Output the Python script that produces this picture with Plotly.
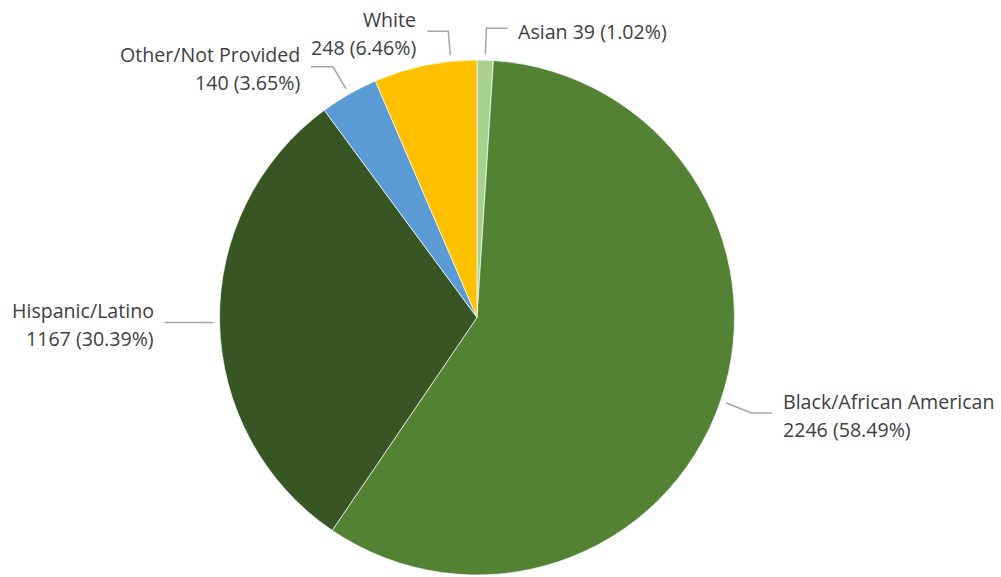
import math
import plotly.graph_objects as go

# ---- data ----
categories = ["Asian", "Black/African American", "Hispanic/Latino", "Other/Not Provided", "White"]
values = [39, 2246, 1167, 140, 248]
colors = ["#A9D18E", "#548235", "#375623", "#5B9BD5", "#FFC000"]

# ---- layout config (pixels) ----
W, H = 1001, 577
CX, CY, R = 477.0, 317.5, 257.5
GAP = 6.0
label_cfg = {
    "Asian": dict(frac=0.5, elbow=(1, -26), hlen=21, side="left", lines=1),
    "Black/African American": dict(frac=0.5, elbow=(25, 10), hlen=21, side="left", lines=2),
    "Hispanic/Latino": dict(frac=0.5, elbow=(-2, 0), hlen=-47, side="right", lines=2),
    "Other/Not Provided": dict(frac=0.5, elbow=(-13, -22), hlen=-22, side="right", lines=2),
    "White": dict(frac=0.75, elbow=(-2, -24), hlen=-21, side="right", lines=2),
}

FONT = "Segoe UI, Open Sans, sans-serif"
FSIZE = 19.6
TXT = "#404040"
LINE = "#A6A6A6"

total = sum(values)
domain_x = [(CX - R - 3) / W, (CX + R + 3) / W]
domain_y = [(H - CY - R) / H, (H - CY + R) / H]

fig = go.Figure(go.Pie(
    labels=categories, values=values, sort=False, direction="clockwise", rotation=0,
    marker=dict(colors=colors, line=dict(color="rgba(255,255,255,0.7)", width=1)),
    textinfo="none", showlegend=False, domain=dict(x=domain_x, y=domain_y),
))

def px(x, y):
    return x / W, 1 - y / H

shapes, annotations = [], []
cum = 0
for cat, v in zip(categories, values):
    cfg = label_cfg[cat]
    a = 2 * math.pi * (cum + cfg["frac"] * v) / total
    cum += v
    x0 = CX + (R + GAP) * math.sin(a)
    y0 = CY - (R + GAP) * math.cos(a)
    x1, y1 = x0 + cfg["elbow"][0], y0 + cfg["elbow"][1]
    x2, y2 = x1 + cfg["hlen"], y1
    p0, p1, p2 = px(x0, y0), px(x1, y1), px(x2, y2)
    shapes.append(dict(type="path", xref="paper", yref="paper",
                       path=f"M {p0[0]} {p0[1]} L {p1[0]} {p1[1]} L {p2[0]} {p2[1]}",
                       line=dict(color=LINE, width=1.5)))
    pct = 100 * v / total
    if cfg["side"] == "left":
        tx, anchor = x2 + 9, "left"
    else:
        tx, anchor = x2 - 9, "right"
    if cfg["lines"] == 1:
        rows = [(f"{cat} {v} ({pct:.2f}%)", y2 + 3)]
    else:
        rows = [(cat, y2 - 12), (f"{v} ({pct:.2f}%)", y2 + 16)]
    for text, ty in rows:
        ax_, ay_ = px(tx, ty)
        annotations.append(dict(x=ax_, y=ay_, xref="paper", yref="paper", text=text,
                                showarrow=False, xanchor=anchor, yanchor="middle",
                                font=dict(family=FONT, size=FSIZE, color=TXT)))

fig.update_layout(
    width=W, height=H, margin=dict(l=0, r=0, t=0, b=0),
    paper_bgcolor="white", plot_bgcolor="white",
    shapes=shapes, annotations=annotations,
)
fig.write_html("out.html", config={"displayModeBar": False},
               post_script="document.body.style.margin='0';document.body.style.overflow='hidden';")
